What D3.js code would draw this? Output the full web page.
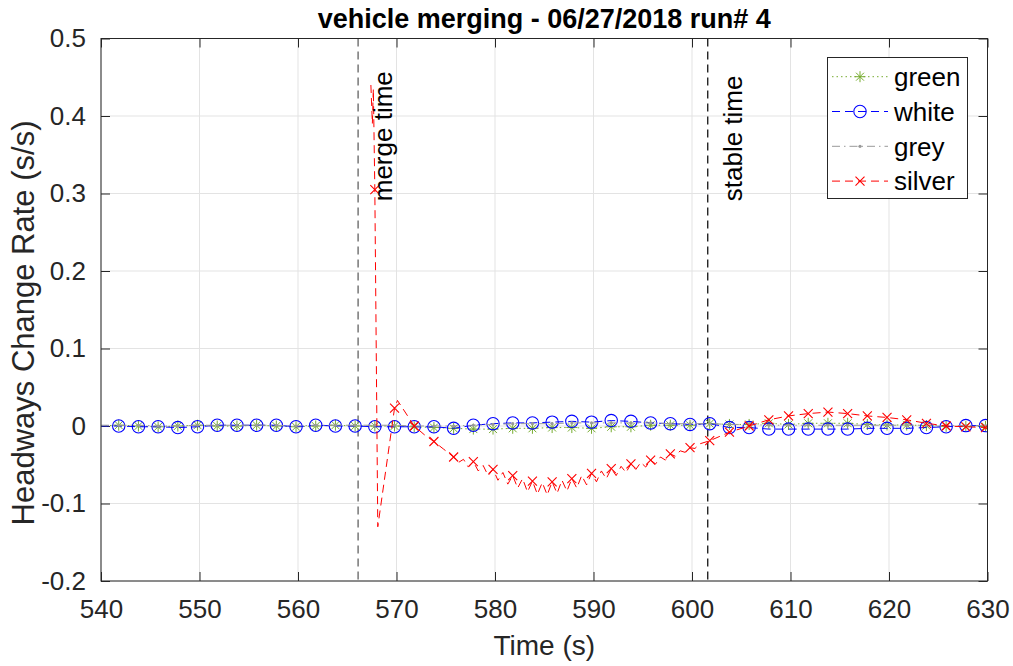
<!DOCTYPE html>
<html>
<head>
<meta charset="utf-8">
<script src="https://cdn.jsdelivr.net/npm/d3@7"></script>
<style>
  html, body { margin: 0; padding: 0; background: #fff; }
  svg { display: block; font-family: "Liberation Sans", Arial, sans-serif; }
</style>
</head>
<body>
<svg id="chart" width="1013" height="666"></svg>
<script>
// Sample times shared by the green, white and grey vehicles (s)
const baseTime = [540, 541.8, 543.8, 545.8, 547.8, 549.8, 551.8, 553.8, 555.8, 557.8, 559.8,
  561.8, 563.8, 565.8, 567.8, 569.8, 571.8, 573.8, 575.8, 577.8, 579.8, 581.8, 583.8, 585.8,
  587.8, 589.8, 591.8, 593.8, 595.8, 597.8, 599.8, 601.8, 603.8, 605.8, 607.8, 609.8, 611.8,
  613.8, 615.8, 617.8, 619.8, 621.8, 623.8, 625.8, 627.8, 629.8];

// Headway change rate (s/s) per vehicle
const greenRate = [0, 0.001, 0, -0.001, 0, 0.001, 0, 0, 0.001, 0, -0.001, 0, 0.001, 0,
  0, 0, -0.001, -0.002, -0.003, -0.004, -0.004, -0.003, -0.003, -0.002, -0.002, -0.003,
  -0.001, -0.001, 0.001, 0.001, 0.001, 0.003, 0.002, 0.002, 0.0035, 0.002, 0.0035, 0.0035,
  0.0035, 0.002, 0.0013, 0.0013, 0.0005, -0.0005, -0.0005, -0.0005];

const whiteRate = [0, 0, -0.001, -0.001, -0.002, -0.001, 0.001, 0.001, 0.001, 0.001, -0.001, 0.001, 0, 0,
  -0.001, -0.001, -0.001, -0.001, -0.003, 0.001, 0.003, 0.004, 0.004, 0.005, 0.006, 0.005,
  0.007, 0.006, 0.004, 0.003, 0.002, 0.003, -0.002, -0.002, -0.004, -0.004, -0.004, -0.004,
  -0.004, -0.003, -0.003, -0.003, -0.002, -0.001, 0.0005, 0.0005];

const greyRate = [0.001, 0.001, 0.001, 0, 0, 0.001, 0.001, 0.001, 0.001, 0.001, 0, 0.001, 0.001, 0.001,
  0.001, 0.001, 0, 0, 0, 0.001, 0.002, 0.003, 0.003, 0.003, 0.004, 0.004, 0.004, 0.004,
  0.004, 0.003, 0.003, 0.003, 0.002, 0.002, 0.001, 0.001, 0.001, 0.001, 0.001, 0.001,
  0.001, 0.001, 0.001, 0.0005, 0.0005, 0.0005];

// The silver vehicle only appears after it merges in
const silverTime = [567.4, 567.55, 567.65, 567.8, 568.1, 569.8, 570.1, 571.8, 572.8, 573.8, 574.8, 575.8,
  576.3, 576.8, 577.3, 577.8, 578.3, 578.8, 579.3, 579.8, 580.3, 580.8, 581.3, 581.8,
  582.3, 582.8, 583.3, 583.8, 584.3, 584.8, 585.3, 585.8, 586.3, 586.8, 587.3, 587.8,
  588.3, 588.8, 589.3, 589.8, 590.3, 590.8, 591.3, 591.8, 592.3, 592.8, 593.3, 593.8,
  594.3, 594.8, 595.3, 595.8, 596.3, 596.8, 597.3, 597.8, 598.3, 598.8, 599.3, 599.8,
  600.3, 600.8, 601.8, 603.8, 605.8, 607.8, 609.8, 611.8, 613.8, 615.8, 617.8, 619.8,
  621.8, 623.8, 625.8, 627.8, 629.8];
const silverRate = [0.44, 0.39, 0.435, 0.305, -0.13, 0.023, 0.033, 0.0, -0.011, -0.020, -0.030, -0.040,
  -0.047, -0.043, -0.053, -0.046, -0.058, -0.051, -0.064, -0.056, -0.070, -0.060, -0.075, -0.064,
  -0.080, -0.068, -0.085, -0.071, -0.088, -0.073, -0.089, -0.072, -0.087, -0.070, -0.084, -0.068,
  -0.080, -0.064, -0.076, -0.061, -0.072, -0.058, -0.068, -0.055, -0.064, -0.052, -0.060, -0.049,
  -0.056, -0.047, -0.053, -0.044, -0.049, -0.040, -0.044, -0.036, -0.039, -0.032, -0.034, -0.028,
  -0.029, -0.023, -0.019, -0.008, 0.0, 0.008, 0.013, 0.016, 0.018, 0.016, 0.013, 0.011,
  0.008, 0.0035, 0.0, -0.001, -0.002];

// Event markers (s)
const eventTime = [566.1, 601.6];
const eventLabel = ["merge time", "stable time"];

const xTicks = [540, 550, 560, 570, 580, 590, 600, 610, 620, 630];
const yTicks = [-0.2, -0.1, 0, 0.1, 0.2, 0.3, 0.4, 0.5];
const yTickLabels = ["-0.2", "-0.1", "0", "0.1", "0.2", "0.3", "0.4", "0.5"];
const seriesNames = ["green", "white", "grey", "silver"];

const svg = d3.select("#chart");
const plot = { left: 101, right: 987.5, top: 38.5, bottom: 581 };
const x = d3.scaleLinear().domain([540, 630]).range([plot.left, plot.right]);
const y = d3.scaleLinear().domain([-0.2, 0.5]).range([plot.bottom, plot.top]);
const axisColor = "#262626";

svg.append("defs").append("clipPath").attr("id", "plotClip")
  .append("rect").attr("x", plot.left).attr("y", plot.top)
  .attr("width", plot.right - plot.left).attr("height", plot.bottom - plot.top);

// Grid
const grid = svg.append("g").attr("stroke", "#e3e3e3").attr("stroke-width", 1);
xTicks.forEach(t => grid.append("line").attr("x1", x(t)).attr("x2", x(t))
  .attr("y1", plot.top).attr("y2", plot.bottom));
yTicks.forEach(t => grid.append("line").attr("y1", y(t)).attr("y2", y(t))
  .attr("x1", plot.left).attr("x2", plot.right));

// Axes with inward ticks on all four sides
const tickLen = 9;
const fmtY = d => yTickLabels[yTicks.indexOf(d)];
const axB = svg.append("g").attr("transform", `translate(0,${plot.bottom})`)
  .call(d3.axisBottom(x).tickValues(xTicks).tickSize(-tickLen).tickPadding(tickLen + 10).tickFormat(d3.format("d")));
const axT = svg.append("g").attr("transform", `translate(0,${plot.top})`)
  .call(d3.axisTop(x).tickValues(xTicks).tickSize(-tickLen).tickFormat(""));
const axL = svg.append("g").attr("transform", `translate(${plot.left},0)`)
  .call(d3.axisLeft(y).tickValues(yTicks).tickSize(-tickLen).tickPadding(tickLen + 6).tickFormat(fmtY));
const axR = svg.append("g").attr("transform", `translate(${plot.right},0)`)
  .call(d3.axisRight(y).tickValues(yTicks).tickSize(-tickLen).tickFormat(""));
[axB, axT, axL, axR].forEach(a => {
  a.select(".domain").remove();
  a.selectAll(".tick line").attr("stroke", axisColor);
  a.selectAll("text").attr("fill", axisColor).attr("font-size", 26)
    .attr("font-family", "Liberation Sans, Arial, sans-serif");
});
axB.selectAll("text").attr("dy", "0.71em");

// Event lines
const evColors = ["#555555", "#000000"];
eventTime.forEach((t, i) => {
  svg.append("line").attr("x1", x(t)).attr("x2", x(t))
    .attr("y1", plot.top).attr("y2", plot.bottom)
    .attr("stroke", evColors[i]).attr("stroke-width", 1.2).attr("stroke-dasharray", "8,5");
});

// Series definitions
const markerTimes = new Set(baseTime.slice(1).map(t => t.toFixed(1)));
const series = [
  { name: "green", color: "#77AC30", dash: "1.5,3", marker: "star",
    pts: baseTime.map((t, i) => [t, greenRate[i]]) },
  { name: "white", color: "#0000FF", dash: "8,5", marker: "circle",
    pts: baseTime.map((t, i) => [t, whiteRate[i]]) },
  { name: "grey", color: "#999999", dash: "8,4,1.5,4", marker: "dot",
    pts: baseTime.map((t, i) => [t, greyRate[i]]) },
  { name: "silver", color: "#FF0000", dash: "8,5", marker: "cross",
    pts: silverTime.map((t, i) => [t, silverRate[i]]) }
];

function drawMarker(g, kind, cx, cy, color) {
  if (kind === "circle") {
    g.append("circle").attr("cx", cx).attr("cy", cy).attr("r", 6.2)
      .attr("fill", "none").attr("stroke", color).attr("stroke-width", 1.1);
  } else if (kind === "dot") {
    g.append("circle").attr("cx", cx).attr("cy", cy).attr("r", 1.6).attr("fill", color);
  } else if (kind === "cross") {
    const s = 4.5;
    g.append("path").attr("d", `M${cx - s},${cy - s}L${cx + s},${cy + s}M${cx - s},${cy + s}L${cx + s},${cy - s}`)
      .attr("stroke", color).attr("stroke-width", 1.1).attr("fill", "none");
  } else if (kind === "star") {
    const s = 5.5, d = s * 0.72;
    g.append("path").attr("d",
      `M${cx},${cy - s}L${cx},${cy + s}M${cx - s},${cy}L${cx + s},${cy}` +
      `M${cx - d},${cy - d}L${cx + d},${cy + d}M${cx - d},${cy + d}L${cx + d},${cy - d}`)
      .attr("stroke", color).attr("stroke-width", 1).attr("fill", "none");
  }
}

const line = d3.line().x(d => x(d[0])).y(d => y(d[1]));
const plotArea = svg.append("g").attr("clip-path", "url(#plotClip)");
series.forEach(s => {
  const g = plotArea.append("g");
  g.append("path").datum(s.pts).attr("d", line).attr("fill", "none")
    .attr("stroke", s.color).attr("stroke-width", 1).attr("stroke-dasharray", s.dash);
  s.pts.filter(p => markerTimes.has(p[0].toFixed(1)))
    .forEach(p => drawMarker(g, s.marker, x(p[0]), y(p[1]), s.color));
});

// Event labels, rotated alongside their lines
eventTime.forEach((t, i) => {
  svg.append("text")
    .attr("transform", `translate(${x(t) + 34},${y(0.29)}) rotate(-90)`)
    .attr("font-size", 26).attr("fill", "#000").text(eventLabel[i]);
});

// Frame
svg.append("rect").attr("x", plot.left).attr("y", plot.top)
  .attr("width", plot.right - plot.left).attr("height", plot.bottom - plot.top)
  .attr("fill", "none").attr("stroke", axisColor).attr("stroke-width", 1);

// Legend
const leg = svg.append("g");
leg.append("rect").attr("x", 827.5).attr("y", 57.5).attr("width", 140).attr("height", 141)
  .attr("fill", "#fff").attr("stroke", axisColor).attr("stroke-width", 1);
series.forEach((s, i) => {
  const cy = 76.7 + i * 34.8;
  leg.append("line").attr("x1", 832).attr("x2", 888).attr("y1", cy).attr("y2", cy)
    .attr("stroke", s.color).attr("stroke-width", 1).attr("stroke-dasharray", s.dash);
  drawMarker(leg, s.marker, 860, cy, s.color);
  leg.append("text").attr("x", 894).attr("y", cy).attr("dy", "0.36em")
    .attr("font-size", 26).attr("fill", "#000").text(seriesNames[i]);
});

// Titles
svg.append("text").attr("x", (plot.left + plot.right) / 2).attr("y", 28)
  .attr("text-anchor", "middle").attr("font-weight", "bold").attr("font-size", 27)
  .attr("fill", "#000").text("vehicle merging - 06/27/2018 run# 4");
svg.append("text").attr("x", (plot.left + plot.right) / 2).attr("y", 655)
  .attr("text-anchor", "middle").attr("font-size", 28).attr("fill", axisColor).text("Time (s)");
svg.append("text").attr("transform", `translate(34,323) rotate(-90)`)
  .attr("text-anchor", "middle").attr("font-size", 31).attr("fill", axisColor)
  .text("Headways Change Rate (s/s)");
</script>
</body>
</html>
